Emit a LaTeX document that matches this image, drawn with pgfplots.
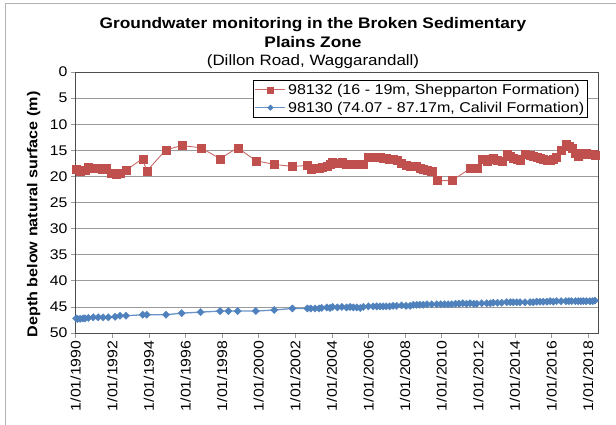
\documentclass[border=0pt]{standalone}
\usepackage{pgfplots}
\pgfplotsset{compat=1.18}
\usepackage{pgfplotstable}
\usepackage{fontspec}
\setmainfont[FakeStretch=1.13]{Liberation Sans}
\definecolor{cred}{HTML}{C0504D}
\definecolor{cblue}{HTML}{4F81BD}
\definecolor{gridc}{HTML}{9A9A9A}

\pgfplotstableread{
year depth
1990.02 18.6
1990.24 19.0
1990.51 18.8
1990.69 18.3
1990.96 18.4
1991.23 18.5
1991.42 18.6
1991.69 18.5
1991.91 19.4
1992.20 19.6
1992.42 19.3
1992.75 18.8
1993.66 16.6
1993.88 19.0
1994.93 14.9
1995.79 14.1
1996.83 14.5
1997.89 16.6
1998.85 14.5
1999.84 17.0
2000.85 17.7
2001.84 18.1
2002.66 17.9
2002.84 18.6
2003.08 18.5
2003.30 18.4
2003.44 18.3
2003.72 18.1
2003.90 17.6
2004.04 17.3
2004.30 17.4
2004.54 17.3
2004.80 17.7
2004.99 17.7
2005.17 17.7
2005.36 17.7
2005.55 17.7
2005.72 17.6
2005.99 16.4
2006.25 16.4
2006.45 16.4
2006.63 16.4
2006.80 16.5
2006.96 16.5
2007.15 16.6
2007.34 16.7
2007.54 16.9
2007.81 17.5
2008.05 17.8
2008.27 18.0
2008.45 18.1
2008.63 18.1
2008.80 18.4
2008.99 18.6
2009.20 18.8
2009.45 19.0
2009.73 20.8
2010.55 20.8
2011.55 18.5
2011.75 18.5
2011.91 18.4
2012.19 16.7
2012.46 17.0
2012.65 16.7
2012.82 16.5
2013.05 16.8
2013.28 17.0
2013.55 15.8
2013.75 16.1
2013.91 16.5
2014.10 16.7
2014.28 16.9
2014.55 15.7
2014.83 16.0
2015.00 16.1
2015.19 16.3
2015.37 16.5
2015.55 16.7
2015.75 16.8
2015.92 16.9
2016.10 16.7
2016.28 16.4
2016.52 14.9
2016.79 13.8
2016.95 14.2
2017.10 14.6
2017.30 15.5
2017.46 16.2
2017.60 15.8
2017.74 15.6
2017.90 15.6
2018.10 15.7
2018.25 15.8
2018.37 16.0
}\redtab

\pgfplotstableread{
year depth
1990.02 47.2
1990.10 47.3
1990.24 47.3
1990.40 47.2
1990.51 47.2
1990.69 47.1
1990.96 47.0
1991.23 47.0
1991.50 47.0
1991.78 47.0
1992.15 46.9
1992.42 46.7
1992.75 46.7
1993.66 46.5
1993.88 46.5
1994.93 46.5
1995.79 46.2
1996.83 46.0
1997.89 45.8
1998.34 45.8
1998.85 45.8
1999.84 45.8
2000.85 45.6
2001.84 45.3
2002.66 45.3
2002.84 45.3
2003.08 45.3
2003.30 45.3
2003.44 45.2
2003.72 45.1
2003.90 45.2
2004.04 45.0
2004.30 45.1
2004.54 45.0
2004.80 45.1
2004.99 45.0
2005.17 45.1
2005.36 45.1
2005.55 45.2
2005.72 45.0
2005.99 44.9
2006.25 44.9
2006.45 44.9
2006.63 44.9
2006.80 44.9
2006.96 44.9
2007.15 44.9
2007.34 44.8
2007.54 44.8
2007.81 44.7
2008.05 44.8
2008.27 44.8
2008.45 44.6
2008.63 44.6
2008.80 44.6
2008.99 44.6
2009.20 44.5
2009.45 44.5
2009.73 44.5
2009.95 44.5
2010.15 44.5
2010.35 44.5
2010.55 44.5
2010.75 44.4
2010.95 44.4
2011.15 44.3
2011.35 44.4
2011.55 44.3
2011.75 44.4
2011.91 44.4
2012.19 44.3
2012.46 44.3
2012.65 44.3
2012.82 44.2
2013.05 44.2
2013.28 44.2
2013.55 44.1
2013.75 44.1
2013.91 44.1
2014.10 44.1
2014.28 44.1
2014.55 44.1
2014.83 44.1
2015.00 44.1
2015.19 44.0
2015.37 44.0
2015.55 44.0
2015.75 44.0
2015.92 43.9
2016.10 44.0
2016.28 43.9
2016.52 43.9
2016.79 43.9
2016.95 43.9
2017.10 43.9
2017.30 43.9
2017.46 43.9
2017.60 43.9
2017.74 43.9
2017.90 43.9
2018.10 43.9
2018.25 43.9
2018.37 43.8
}\bluetab

\begin{document}
\begin{tikzpicture}[x=1pt,y=1pt]
\path[use as bounding box] (-75.7,-92) rectangle (540.3,333);
\draw[black!30, line width=0.8pt] (-70.7,-100) -- (-70.7,330) -- (545,330);
\begin{axis}[
  at={(0,0)}, anchor=south west,
  scale only axis, width=522.3pt, height=261pt,
  xmin=1990, xmax=2018.54, ymin=0, ymax=50,
  y dir=reverse,
  ytick={0,5,...,50},
  xtick={1990,1992,...,2018},
  xticklabels={1/01/1990,1/01/1992,1/01/1994,1/01/1996,1/01/1998,1/01/2000,1/01/2002,1/01/2004,1/01/2006,1/01/2008,1/01/2010,1/01/2012,1/01/2014,1/01/2016,1/01/2018},
  /pgf/number format/assume math mode=true,
  tick label style={font=\fontsize{14}{16}\selectfont, text=black},
  xticklabel style={rotate=90, anchor=east, inner sep=2.5pt},
  yticklabel style={inner sep=3pt},
  tick align=outside, major tick length=5pt,
  xtick pos=bottom, ytick pos=left,
  tick style={gridc, line width=0.8pt},
  ymajorgrids, grid style={gridc, line width=0.8pt},
  axis line style={black!70, line width=0.8pt},
  ylabel={\bfseries Depth below natural surface (m)},
  ylabel style={font=\fontsize{14.3}{16}\selectfont, yshift=3pt, xshift=-12pt},
  legend style={at={(axis description cs:0.981,0.969)}, anchor=north east,
    draw=black, line width=0.8pt, fill=white, font=\fontsize{14.2}{17}\selectfont,
    inner sep=1.5pt, row sep=2pt},
  legend cell align=left,
]
\addplot[cred!85, line width=0.9pt, mark=square*, mark size=4pt, mark options={fill=cred, draw=cred, line width=0.3pt},
  legend image code/.code={\draw[mark repeat=2, mark phase=2, mark size=3pt] plot coordinates {(0pt,0pt) (15pt,0pt) (30pt,0pt)};}]
  table[x=year, y=depth] {\redtab};
\addlegendentry{98132 (16 - 19m, Shepparton Formation)}
\addplot[cblue!85, line width=1.3pt, mark=square*, mark size=2.6pt, mark options={rotate=45, fill=cblue, draw=cblue, line width=0.3pt},
  legend image code/.code={\draw[mark repeat=2, mark phase=2, mark size=2pt] plot coordinates {(0pt,0pt) (15pt,0pt) (30pt,0pt)};}]
  table[x=year, y=depth] {\bluetab};
\addlegendentry{98130 (74.07 - 87.17m, Calivil Formation)}
\end{axis}
\node[anchor=north, align=center, inner sep=0, font=\fontsize{15.3}{19}\selectfont\bfseries] at (237.3,316) {Groundwater monitoring in the Broken Sedimentary\\Plains Zone};
\node[anchor=base, inner sep=0, font=\fontsize{15}{18}\selectfont] at (237.3,267) {(Dillon Road, Waggarandall)};
\end{tikzpicture}
\end{document}
